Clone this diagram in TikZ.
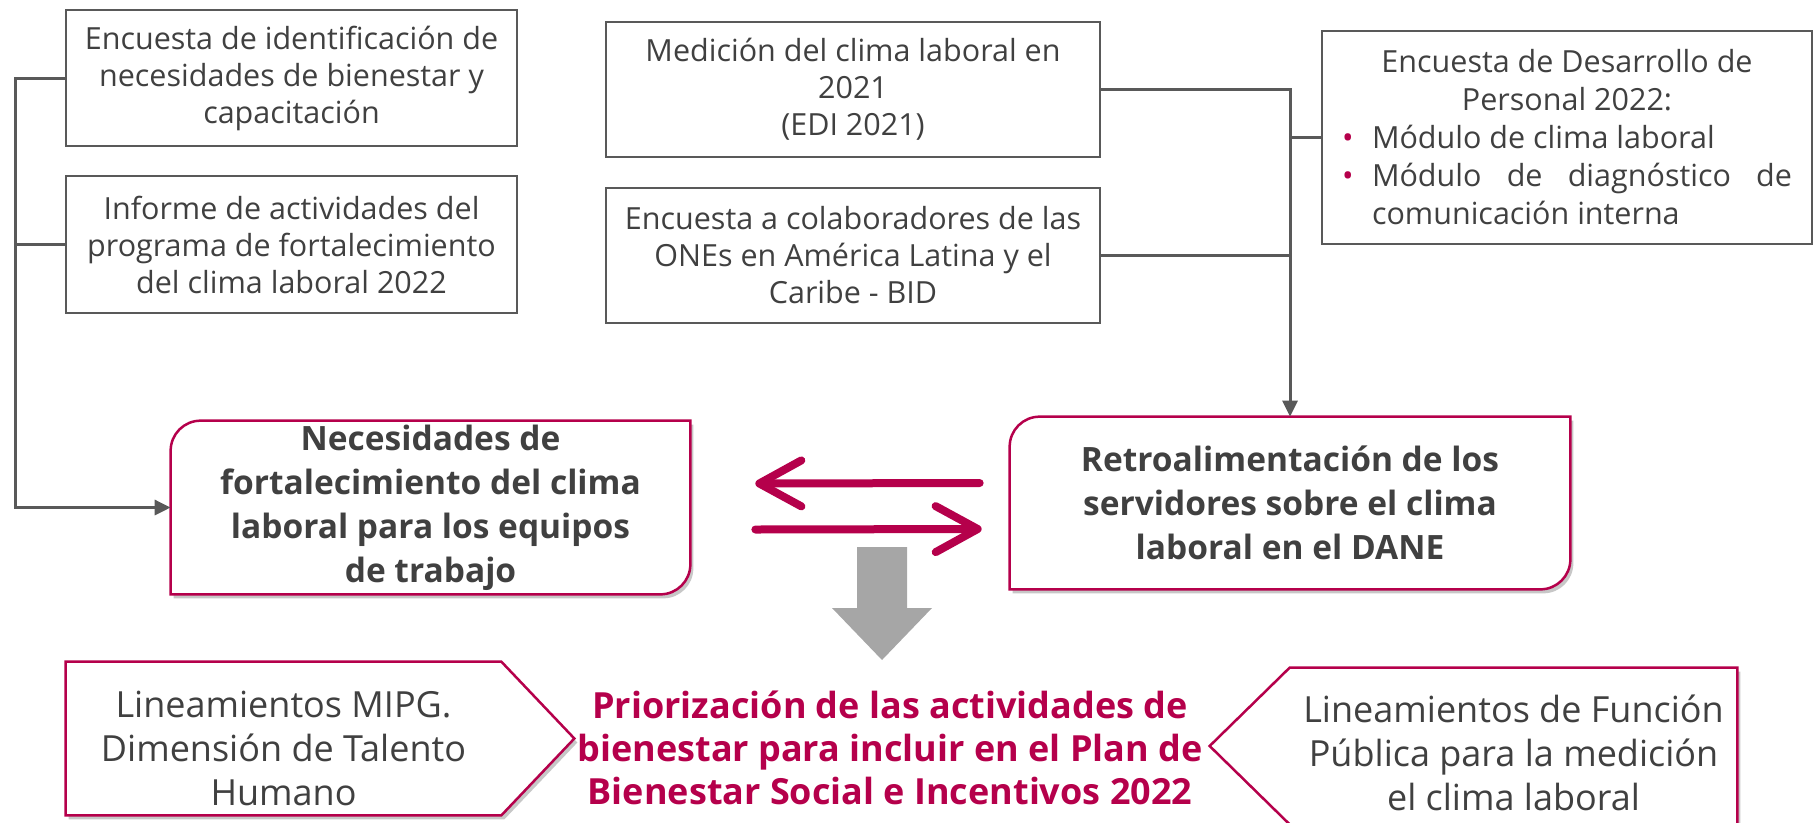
\documentclass[tikz,border=0pt]{standalone}
\usepackage{fontspec}
\setmainfont{Open Sans}
\usetikzlibrary{positioning,calc,arrows.meta,backgrounds}

\newlength\pxu
\setlength\pxu{0.02cm}

\definecolor{dane}{HTML}{B5004B}
\definecolor{rule}{HTML}{595959}
\definecolor{ink}{HTML}{404040}
\definecolor{block}{HTML}{A6A6A6}

\tikzset{
  srcbox/.style={draw=rule, line width=2\pxu, fill=white, text=ink, align=center, inner sep=0pt,
    font=\fontsize{30.5\pxu}{37\pxu}\selectfont},
  goalbox/.style={text=ink, align=center, inner sep=0pt,
    font=\bfseries\fontsize{33.5\pxu}{44\pxu}\selectfont},
  guide/.style={text=ink, align=center, inner sep=0pt,
    font=\fontsize{36\pxu}{44\pxu}\selectfont},
  rimline/.style={draw=dane, line width=2.5\pxu, fill=white,
    preaction={fill=black!22, transform canvas={xshift=3\pxu, yshift=-4\pxu}}},
  bus/.style={draw=rule, line width=3\pxu},
  feed/.style={bus, -{Triangle[length=0.32cm, width=0.3cm]}},
  swap/.style={draw=dane, line width=8\pxu, line cap=round,
    -{Straight Barb[length=0.84cm, width=0.92cm, round]}},
}

\begin{document}
\begin{tikzpicture}[x=0.02cm, y=-0.02cm]

  \useasboundingbox (0,0) rectangle (1814,822);

  % Nodes

  \node[srcbox, minimum width=451\pxu, minimum height=136\pxu] (enc) at (291.5,78)
    {Encuesta de identificación de\\necesidades de bienestar y\\capacitación};
  \node[srcbox, minimum width=451\pxu, minimum height=137\pxu, below=28\pxu of enc] (inf)
    {Informe de actividades del\\programa de fortalecimiento\\del clima laboral 2022};
  \node[srcbox, minimum width=494\pxu, minimum height=135\pxu] (med) at (853,89.5)
    {Medición del clima laboral en\\2021\\(EDI 2021)};
  \node[srcbox, minimum width=494\pxu, minimum height=135\pxu, below=29\pxu of med] (ones)
    {Encuesta a colaboradores de las\\ONEs en América Latina y el\\Caribe - BID};
  \node[srcbox, minimum width=490\pxu, minimum height=213\pxu, text width=450\pxu,
    font=\fontsize{30.5\pxu}{38\pxu}\selectfont, align=none] (edp) at (1567,137.5)
    {{\centering Encuesta de Desarrollo de\\Personal 2022:\par}
     \noindent\makebox[30\pxu][l]{\textcolor{dane}{\textbullet}}Módulo de clima laboral\par
     \noindent\makebox[30\pxu][l]{\textcolor{dane}{\textbullet}}\makebox[420\pxu][s]{Módulo de diagnóstico de}\par
     \noindent\hspace*{30\pxu}comunicación interna\par};

  \node[goalbox, minimum width=519\pxu, minimum height=173\pxu] (need) at (430.5,507.5)
    {Necesidades de\\fortalecimiento del clima\\laboral para los equipos\\de trabajo};
  \node[goalbox, minimum width=560\pxu, minimum height=172\pxu] (feedback) at (1290,503)
    {Retroalimentación de los\\servidores sobre el clima\\laboral en el DANE};

  \node[guide, minimum width=435\pxu, minimum height=153\pxu] (mipg) at (283.5,748.5)
    {Lineamientos MIPG.\\Dimensión de Talento\\Humano};
  \node[text=dane, align=center, inner sep=0pt, font=\bfseries\fontsize{36\pxu}{43\pxu}\selectfont] (plan) at (890,748)
    {Priorización de las actividades de\\bienestar para incluir en el Plan de\\Bienestar Social e Incentivos 2022};
  \node[guide, minimum width=447\pxu, minimum height=156\pxu] (fp) at (1513.5,753)
    {Lineamientos de Función\\Pública para la medición\\el clima laboral};

  \coordinate (dtip) at (882,660);

  % Frames

  \begin{scope}[on background layer]
    \draw[rimline] (need.south west) -- ([yshift=-30\pxu]need.north west)
      arc[start angle=180, end angle=90, radius=30\pxu] -- (need.north east)
      -- ([yshift=30\pxu]need.south east) arc[start angle=0, end angle=-90, radius=30\pxu] -- cycle;
    \draw[rimline] (feedback.south west) -- ([yshift=-30\pxu]feedback.north west)
      arc[start angle=180, end angle=90, radius=30\pxu] -- (feedback.north east)
      -- ([yshift=30\pxu]feedback.south east) arc[start angle=0, end angle=-90, radius=30\pxu] -- cycle;
    \begin{scope}[transform canvas={yshift=10\pxu}]
      \draw[rimline] (mipg.north west) -- (mipg.north east) -- ($(mipg.east)+(73,0)$)
        -- (mipg.south east) -- (mipg.south west) -- cycle;
    \end{scope}
    \begin{scope}[transform canvas={yshift=7\pxu}]
      \draw[rimline] (fp.north east) -- (fp.north west) -- ($(fp.west)+(-80,0)$)
        -- (fp.south west) -- (fp.south east) -- cycle;
    \end{scope}
  \end{scope}

  % Down arrow

  \fill[block] ($(dtip)+(-25,-113)$) -- ++(50,0) -- ++(0,61) -- ++(25,0) -- (dtip)
    -- ++(-50,-52) -- ++(25,0) -- cycle;

  % Edges

  \draw[feed] (enc.west) -- ++(-50,0) |- (need.west);
  \draw[bus] (inf.west) -- ++(-50,0);
  \draw[feed] (med.east) -| (feedback.north);
  \draw[bus] (ones.east) -- (ones.east -| feedback.north);
  \draw[bus] (edp.west) -- (edp.west -| feedback.north);

  \draw[swap] ($(feedback.west)+(-30,-20)$) -- ($(need.east)+(65,-24)$);
  \draw[swap] ($(need.east)+(65,22)$) -- ($(feedback.west)+(-28,26)$);

\end{tikzpicture}
\end{document}
